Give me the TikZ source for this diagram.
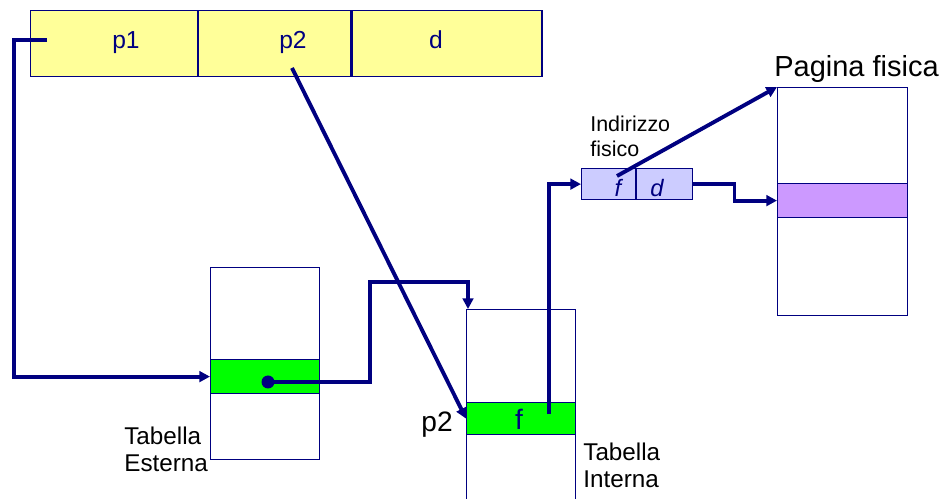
\documentclass[tikz,border=0pt]{standalone}
\usepackage{fontspec}
\setmainfont{Liberation Sans}
\usetikzlibrary{arrows.meta,positioning}
\definecolor{navy}{RGB}{0,0,128}
\definecolor{giallo}{RGB}{255,255,153}
\definecolor{verde}{RGB}{0,255,0}
\definecolor{lilla}{RGB}{204,204,255}
\definecolor{viola}{RGB}{204,153,255}

\begin{document}
\begin{tikzpicture}[x=0.02cm,y=-0.02cm,
  cella/.style={draw=navy,line width=0.7pt,anchor=north west,inner sep=0pt},
  arr/.style={-{Triangle[length=6pt,width=6pt]},draw=navy,line width=2.2pt},
  etic/.style={align=left,anchor=base west,inner sep=0pt}]
  \useasboundingbox (0,0) rectangle (943,499);
  % indirizzo logico
  \node[cella,fill=giallo,minimum width=3.34cm,minimum height=1.32cm](c1) at (30,10){};
  \node[cella,fill=giallo,minimum width=3.04cm,minimum height=1.32cm,right=0pt of c1](c2){};
  \node[cella,fill=giallo,minimum width=3.8cm,minimum height=1.32cm,right=0pt of c2](c3){};
  \node[text=navy,font=\fontsize{14}{16}\selectfont,anchor=base](tp1) at (126,49){p1};
  \node[text=navy,font=\fontsize{14}{16}\selectfont,anchor=base](tp2) at (293,49){p2};
  \node[text=navy,font=\fontsize{14}{16}\selectfont,anchor=base](td) at (436,49){d};
  % tabelle
  \node[cella,minimum width=2.18cm,minimum height=3.84cm](te) at (210,267){};
  \node[cella,fill=verde,minimum width=2.18cm,minimum height=0.68cm](tes) at (210,359){};
  \node[cella,minimum width=2.18cm,minimum height=3.9cm](ti) at (466,309){};
  \node[cella,fill=verde,minimum width=2.18cm,minimum height=0.64cm](tis) at (466,402){};
  \node[text=navy,font=\fontsize{16}{18}\selectfont,anchor=base](tf) at (519,430){f};
  \node[font=\fontsize{16}{18}\selectfont,anchor=base east,inner sep=0pt](tq) at (453,432){p2};
  \node[etic,font=\fontsize{13.8}{15.6}\selectfont](lte) at (124,472){Tabella\\Esterna};
  \node[etic,font=\fontsize{13.8}{15.6}\selectfont](lti) at (583,488){Tabella\\Interna};
  % indirizzo fisico
  \node[cella,fill=lilla,minimum width=1.08cm,minimum height=0.62cm](fa) at (581,168){};
  \node[cella,fill=lilla,minimum width=1.12cm,minimum height=0.62cm,right=0pt of fa](da){};
  \node[text=navy,font=\fontsize{13.5}{15}\selectfont\itshape,anchor=base](tfa) at (618,197){f};
  \node[text=navy,font=\fontsize{13.5}{15}\selectfont\itshape,anchor=base](tda) at (657,197){d};
  \node[etic,font=\fontsize{12.2}{14.5}\selectfont](lif) at (590,157){Indirizzo\\fisico};
  % pagina fisica
  \node[cella,minimum width=2.6cm,minimum height=4.56cm](pf) at (777,87){};
  \node[cella,fill=viola,minimum width=2.6cm,minimum height=0.68cm](pfs) at (777,183){};
  \node[etic,font=\fontsize{16.5}{18}\selectfont](lpf) at (774,77){Pagina fisica};
  % collegamenti
  \coordinate(s1) at (47,40);\coordinate(s2) at (292,68);\coordinate(k) at (268,382);
  \coordinate(s4) at (549,414);\coordinate(s5) at (617,176);
  \draw[arr](s1)--(14,40)|-(tes.west);
  \draw[arr](k)-|(370,282)-|([xshift=0.04cm]ti.north west);
  \fill[navy](k) circle (6.5);
  \draw[arr](s2)--(tis.west);
  \draw[arr](s4)|-(fa.west);
  \draw[arr](s5)--(pf.north west);
  \draw[arr](da.east)--++(41,0)|-(pfs.west);
\end{tikzpicture}
\end{document}
